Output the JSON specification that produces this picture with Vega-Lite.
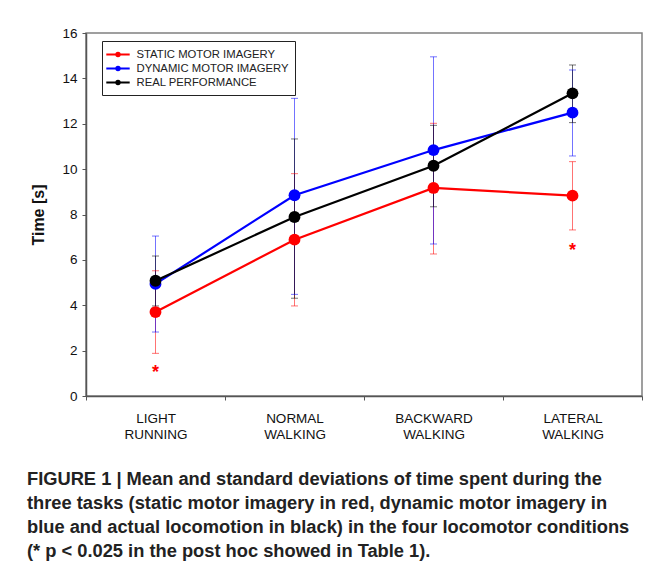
{
  "$schema": "https://vega.github.io/schema/vega-lite/v6.json",
  "autosize": "none",
  "width": 556,
  "height": 363,
  "padding": {"left": 86, "top": 33, "right": 12, "bottom": 177},
  "background": "white",
  "config": {
    "font": "Liberation Sans",
    "view": {"stroke": "#808080", "strokeWidth": 1.5},
    "axis": {"grid": false, "labelColor": "#111", "domainColor": "#555", "tickColor": "#555", "labelFont": "Liberation Sans"}
  },
  "title": {
    "text": [
      "FIGURE 1 | Mean and standard deviations of time spent during the",
      "three tasks (static motor imagery in red, dynamic motor imagery in",
      "blue and actual locomotion in black) in the four locomotor conditions",
      "(* p < 0.025 in the post hoc showed in Table 1)."
    ],
    "orient": "bottom",
    "anchor": "start",
    "frame": "group",
    "dx": -59,
    "offset": 30,
    "font": "Liberation Sans",
    "fontSize": 18.3,
    "fontWeight": "bold",
    "lineHeight": 24.3,
    "color": "#222",
    "baseline": "top"
  },
  "data": {
    "values": [
      {"cond": "LIGHT RUNNING", "series": "STATIC MOTOR IMAGERY", "mean": 3.70, "lo": 1.88, "hi": 5.52},
      {"cond": "LIGHT RUNNING", "series": "DYNAMIC MOTOR IMAGERY", "mean": 4.94, "lo": 2.82, "hi": 7.05},
      {"cond": "LIGHT RUNNING", "series": "REAL PERFORMANCE", "mean": 5.08, "lo": 3.97, "hi": 6.17},
      {"cond": "NORMAL WALKING", "series": "STATIC MOTOR IMAGERY", "mean": 6.89, "lo": 3.97, "hi": 9.80},
      {"cond": "NORMAL WALKING", "series": "DYNAMIC MOTOR IMAGERY", "mean": 8.85, "lo": 4.48, "hi": 13.12},
      {"cond": "NORMAL WALKING", "series": "REAL PERFORMANCE", "mean": 7.89, "lo": 4.31, "hi": 11.33},
      {"cond": "BACKWARD WALKING", "series": "STATIC MOTOR IMAGERY", "mean": 9.17, "lo": 6.26, "hi": 12.02},
      {"cond": "BACKWARD WALKING", "series": "DYNAMIC MOTOR IMAGERY", "mean": 10.84, "lo": 6.70, "hi": 14.95},
      {"cond": "BACKWARD WALKING", "series": "REAL PERFORMANCE", "mean": 10.15, "lo": 8.34, "hi": 11.93},
      {"cond": "LATERAL WALKING", "series": "STATIC MOTOR IMAGERY", "mean": 8.83, "lo": 7.32, "hi": 10.33},
      {"cond": "LATERAL WALKING", "series": "DYNAMIC MOTOR IMAGERY", "mean": 12.49, "lo": 10.58, "hi": 14.37},
      {"cond": "LATERAL WALKING", "series": "REAL PERFORMANCE", "mean": 13.34, "lo": 12.05, "hi": 14.59}
    ]
  },
  "encoding": {
    "x": {
      "field": "cond", "type": "nominal",
      "sort": ["LIGHT RUNNING", "NORMAL WALKING", "BACKWARD WALKING", "LATERAL WALKING"],
      "scale": {"paddingInner": 0, "paddingOuter": 0},
      "axis": {"title": null, "labelAngle": 0, "tickBand": "extent", "tickSize": 4, "labelFontSize": 13.5, "labelPadding": 11, "labelLineHeight": 16, "labelExpr": "split(datum.label, ' ')", "domainWidth": 1.5}
    }
  },
  "layer": [
    {
      "mark": {"type": "rule", "strokeWidth": 1, "opacity": 0.55},
      "encoding": {
        "y": {"field": "lo", "type": "quantitative"},
        "y2": {"field": "hi"},
        "color": {"field": "series", "type": "nominal",
          "scale": {"domain": ["STATIC MOTOR IMAGERY", "DYNAMIC MOTOR IMAGERY", "REAL PERFORMANCE"], "range": ["#ff0000", "#0000ff", "#000000"]},
          "legend": {
            "title": null, "orient": "none", "legendX": 16, "legendY": 8,
            "strokeColor": "#222", "fillColor": "white", "padding": 6,
            "labelFontSize": 11.3, "labelColor": "#222", "labelFont": "Liberation Sans", "labelLimit": 400,
            "symbolType": "M-1.8,0L1.8,0M-0.26,0A0.26,0.26,0,1,1,0.26,0A0.26,0.26,0,1,1,-0.26,0Z",
            "symbolSize": 169, "symbolStrokeWidth": 2, "symbolOpacity": 1, "symbolOffset": 2.5, "rowPadding": 0, "labelOffset": 11,
            "encode": {"symbols": {"update": {"fill": {"scale": "color", "field": "value"}, "stroke": {"scale": "color", "field": "value"}, "opacity": {"value": 1}}}}
          }}
      }
    },
    {
      "mark": {"type": "tick", "orient": "horizontal", "size": 7, "thickness": 1, "opacity": 0.55},
      "encoding": {
        "y": {"field": "lo", "type": "quantitative"},
        "color": {"field": "series", "type": "nominal"}
      }
    },
    {
      "mark": {"type": "tick", "orient": "horizontal", "size": 7, "thickness": 1, "opacity": 0.55},
      "encoding": {
        "y": {"field": "hi", "type": "quantitative"},
        "color": {"field": "series", "type": "nominal"}
      }
    },
    {
      "mark": {"type": "line", "strokeWidth": 2.2},
      "encoding": {
        "y": {"field": "mean", "type": "quantitative",
          "scale": {"domain": [0, 16], "nice": false},
          "axis": {"title": "Time [s]", "titleFontSize": 16, "titleFontWeight": "bold", "titleColor": "#111", "titleFont": "Liberation Sans", "titlePadding": 15, "values": [0, 2, 4, 6, 8, 10, 12, 14, 16], "tickSize": 4, "labelFontSize": 13.5, "labelPadding": 5, "domainWidth": 1.5}},
        "color": {"field": "series", "type": "nominal"}
      }
    },
    {
      "mark": {"type": "point", "filled": true, "size": 140, "opacity": 1},
      "encoding": {
        "y": {"field": "mean", "type": "quantitative"},
        "color": {"field": "series", "type": "nominal"}
      }
    },
    {
      "data": {"values": [
        {"cond": "LIGHT RUNNING", "pos": 1.22, "label": "*"},
        {"cond": "LATERAL WALKING", "pos": 6.61, "label": "*"}
      ]},
      "mark": {"type": "text", "color": "#ff0000", "fontSize": 18, "fontWeight": "bold", "dy": 10, "baseline": "alphabetic"},
      "encoding": {
        "y": {"field": "pos", "type": "quantitative"},
        "text": {"field": "label"}
      }
    }
  ]
}
